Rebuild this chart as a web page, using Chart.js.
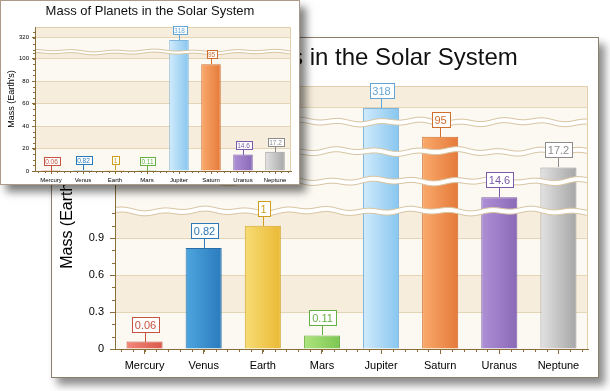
<!DOCTYPE html>
<html>
<head>
<meta charset="utf-8">
<title>Mass of Planets in the Solar System</title>
<script src="https://cdn.jsdelivr.net/npm/chart.js@4.4.0/dist/chart.umd.min.js"></script>
<style>
  html, body { margin: 0; padding: 0; background: #fff; }
  body { width: 610px; height: 391px; position: relative; overflow: hidden; }
  .panel { position: absolute; background: #fff; box-sizing: border-box; }
  #bigPanel { left: 51px; top: 37px; width: 548px; height: 341px; border: 1px solid #8c7c6c;
              box-shadow: 6px 7px 8px rgba(0, 0, 0, 0.45); z-index: 1; }
  #smallPanel { left: 0; top: 0; width: 300px; height: 185px; border: 1px solid #ad9b8a;
                box-shadow: 6px 7px 8px rgba(0, 0, 0, 0.5); z-index: 2; }
  canvas { display: block; }
</style>
</head>
<body>
<div class="panel" id="bigPanel"><canvas id="bigChart" width="546" height="339"></canvas></div>
<div class="panel" id="smallPanel"><canvas id="smallChart" width="298" height="183"></canvas></div>

<script>
// data
const planets = ['Mercury', 'Venus', 'Earth', 'Mars', 'Jupiter', 'Saturn', 'Uranus', 'Neptune'];
const massEarths = [0.06, 0.82, 1, 0.11, 318, 95, 14.6, 17.2];

// value axis pieces kept between the scale breaks
const bigTicks = [0, 0.3, 0.6, 0.9, 320];
const bigPieces = [[0, 1.12], [14, 15.3], [16.6, 17.9], [94, 96], [290, 362]];
const smallTicks = [0, 20, 40, 60, 80, 100, 320];
const smallPieces = [[0, 105.8], [308, 329]];

// colours
const barLeft  = ['#f2887a', '#4ea6de', '#f6dc76', '#aee47e', '#d0ebfc', '#f9aa6c', '#ae90d6', '#e2e2e2'];
const barRight = ['#d9584a', '#2a7bbd', '#ebb934', '#7cc652', '#88c6ef', '#e57a3a', '#8a69b7', '#a6a6a6'];
const barEdge  = ['#c4533f', '#2a6ea8', '#d3a631', '#6cae45', '#80b6dc', '#d26e2c', '#7a5aa9', '#9c9c9c'];
const labelInk = ['#c4533f', '#2b78b8', '#cf9e1c', '#66b043', '#63a6d6', '#d26e2c', '#7a5aa9', '#8c8c8c'];
const axisInk = '#8b6d3a';
const gridInk = '#e4d5b7';
const fontFamily = "'Liberation Sans', Arial, sans-serif";

// linear scale split into pieces, with a break between every two pieces
class BrokenLinearScale extends Chart.LinearScale {
    static id = 'brokenLinear';

    determineDataLimits() {
        const p = this.options.pieces;
        this.min = p[0][0];
        this.max = p[p.length - 1][1];
    }

    buildTicks() {
        return this.options.tickValues.map(v => ({ value: v }));
    }

    pieceDecimal(v) {
        const p = this.options.pieces;
        const w = this.options.pieceWeights;
        const total = w.reduce((a, b) => a + b, 0);
        let acc = 0;
        for (let i = 0; i < p.length; i++) {
            if (v <= p[i][1] || i === p.length - 1) {
                return (acc + (v - p[i][0]) / (p[i][1] - p[i][0]) * w[i]) / total;
            }
            acc += w[i];
        }
    }

    getPixelForValue(v) {
        if (v === undefined || v === null) return NaN;
        return this.getPixelForDecimal(this.pieceDecimal(v));
    }

    breakPixels() {
        const w = this.options.pieceWeights;
        const total = w.reduce((a, b) => a + b, 0);
        const out = [];
        let acc = 0;
        for (let i = 0; i < w.length - 1; i++) {
            acc += w[i];
            out.push(this.getPixelForDecimal(acc / total));
        }
        return out;
    }
}
Chart.register(BrokenLinearScale);

function barGradient(ctx) {
    const chart = ctx.chart;
    const i = ctx.dataIndex;
    const xs = chart.scales.x;
    if (!chart.chartArea || i === undefined || !xs) return barRight[0];
    const step = (xs.right - xs.left) / planets.length;
    const cx = xs.getPixelForValue(i);
    const half = step * ctx.dataset.barPercentage / 2;
    const g = chart.ctx.createLinearGradient(cx - half, 0, cx + half, 0);
    g.addColorStop(0, barLeft[i]);
    g.addColorStop(1, barRight[i]);
    return g;
}

function wave(x) {
    return Math.sin(x / 6.5) * 1.1 + Math.sin(x / 17 + 2) * 0.9;
}

// bands, frame, breaks, minor ticks and value boxes
const plotDecor = {
    id: 'plotDecor',
    beforeDraw(chart, args, o) {
        const { ctx, chartArea: a } = chart;
        const y = chart.scales.y;
        ctx.save();
        ctx.fillStyle = o.light;
        ctx.fillRect(a.left, a.top, a.right - a.left, a.bottom - a.top);
        ctx.fillStyle = o.dark;
        o.darkBands.forEach(([v0, v1]) => {
            const p0 = y.getPixelForValue(v0), p1 = y.getPixelForValue(v1);
            ctx.fillRect(a.left, p1, a.right - a.left, p0 - p1);
        });
        ctx.strokeStyle = o.frame;
        ctx.lineWidth = 1;
        ctx.beginPath();
        ctx.moveTo(a.left, a.top + 0.5);
        ctx.lineTo(a.right - 0.5, a.top + 0.5);
        ctx.lineTo(a.right - 0.5, a.bottom);
        ctx.stroke();
        ctx.restore();
    },
    afterDatasetsDraw(chart, args, o) {
        const { ctx, chartArea: a } = chart;
        const y = chart.scales.y, x = chart.scales.x;
        ctx.save();
        ctx.beginPath();
        ctx.rect(a.left + 1, a.top, a.right - a.left - 2, a.bottom - a.top);
        ctx.clip();
        y.breakPixels().forEach((py, k) => {
            const ph = k * 37;
            const up = xx => py - o.waveHalf + o.waveAmp * wave(xx + ph);
            const dn = xx => py + o.waveHalf + o.waveAmp * wave(xx + ph);
            ctx.beginPath();
            for (let xx = a.left; xx <= a.right; xx++) ctx.lineTo(xx, up(xx));
            for (let xx = a.right; xx >= a.left; xx--) ctx.lineTo(xx, dn(xx));
            ctx.closePath();
            ctx.fillStyle = '#fff';
            ctx.fill();
            ctx.strokeStyle = o.waveInk;
            ctx.lineWidth = 1;
            ctx.beginPath();
            for (let xx = a.left; xx <= a.right; xx++) ctx.lineTo(xx, up(xx));
            ctx.stroke();
            ctx.beginPath();
            for (let xx = a.left; xx <= a.right; xx++) ctx.lineTo(xx, dn(xx));
            ctx.stroke();
        });
        ctx.restore();

        // minor ticks
        ctx.save();
        ctx.strokeStyle = axisInk;
        ctx.lineWidth = 1;
        ctx.beginPath();
        const step = (x.right - x.left) / planets.length / o.xMinorPerCat;
        for (let px = x.getPixelForValue(0) - step * 2; px <= x.right + 0.1; px += step) {
            if (px < x.left) continue;
            const rx = Math.round(px) + 0.5;
            ctx.moveTo(rx, a.bottom);
            ctx.lineTo(rx, a.bottom + o.minorLen);
        }
        o.yMinor.forEach(([v0, v1, s]) => {
            for (let v = v0; v <= v1 + 1e-9; v += s) {
                const ry = Math.round(y.getPixelForValue(v)) + 0.5;
                ctx.moveTo(a.left, ry);
                ctx.lineTo(a.left - o.minorLen, ry);
            }
        });
        ctx.stroke();
        ctx.restore();

        // value boxes
        const L = o.label;
        const meta = chart.getDatasetMeta(0);
        ctx.save();
        ctx.font = L.size + 'px ' + fontFamily;
        ctx.lineWidth = 1;
        meta.data.forEach((bar, i) => {
            const txt = String(chart.data.datasets[0].data[i]);
            const bw = Math.round(ctx.measureText(txt).width + 2 * L.padX);
            const cx = Math.round(bar.x) + 0.5;
            const top = Math.round(bar.y);
            const boxBottom = top - L.gap;
            const bx = Math.round(cx - bw / 2) + 0.5;
            const by = boxBottom - L.boxH + 0.5;
            ctx.strokeStyle = labelInk[i];
            ctx.beginPath();
            ctx.moveTo(cx, top);
            ctx.lineTo(cx, boxBottom);
            ctx.stroke();
            ctx.fillStyle = '#fff';
            ctx.fillRect(bx, by, bw, L.boxH);
            ctx.strokeRect(bx, by, bw, L.boxH);
            ctx.fillStyle = labelInk[i];
            ctx.textAlign = 'center';
            ctx.textBaseline = 'middle';
            ctx.fillText(txt, cx, by + L.boxH / 2 + 0.5);
        });
        ctx.restore();
    }
};

function makeChart(id, s) {
    return new Chart(document.getElementById(id), {
        type: 'bar',
        data: {
            labels: planets,
            datasets: [{
                data: massEarths,
                backgroundColor: barGradient,
                borderColor: barEdge,
                borderWidth: 1,
                barPercentage: 0.61,
                categoryPercentage: 1
            }]
        },
        options: {
            responsive: false,
            animation: false,
            events: [],
            // equal side padding keeps the title centred on the panel
            layout: { padding: { left: s.pad, right: s.pad, top: 0, bottom: 0 } },
            plugins: {
                legend: { display: false },
                tooltip: { enabled: false },
                title: {
                    display: true,
                    text: 'Mass of Planets in the Solar System',
                    color: '#111',
                    font: { family: fontFamily, size: s.titleSize, weight: 'normal', lineHeight: 1.2 },
                    padding: s.titlePad
                },
                plotDecor: s.decor
            },
            scales: {
                x: {
                    grid: { drawOnChartArea: false, offset: false, tickLength: s.tickLen, tickColor: axisInk },
                    border: { color: axisInk },
                    ticks: { color: '#000', font: { family: fontFamily, size: s.tickSize }, padding: s.xPad, maxRotation: 0 },
                    afterFit: scale => { scale.height = s.xHeight; }
                },
                y: {
                    type: 'brokenLinear',
                    pieces: s.pieces,
                    pieceWeights: s.weights,
                    tickValues: s.ticks,
                    grid: { color: gridInk, tickColor: axisInk, tickLength: s.tickLen },
                    border: { color: axisInk },
                    ticks: { callback: v => String(v), color: '#000', font: { family: fontFamily, size: s.tickSize }, padding: s.yPad },
                    title: {
                        display: true,
                        text: "Mass (Earth's)",
                        color: '#000',
                        font: { family: fontFamily, size: s.axisTitleSize, lineHeight: 1.2 },
                        padding: { top: s.axisTitleTop, bottom: 0 }
                    },
                    afterFit: scale => { scale.width = s.yWidth; }
                }
            }
        },
        plugins: [plotDecor]
    });
}

document.addEventListener('DOMContentLoaded', function () {
    makeChart('bigChart', {
        pieces: bigPieces,
        weights: [138, 30, 29.5, 29.5, 36],
        ticks: bigTicks,
        pad: 10,
        titleSize: 24,
        titlePad: { top: 6, bottom: 13.2 },
        tickSize: 11,
        tickLen: 5,
        xPad: 5,
        yPad: 6,
        xHeight: 28,
        yWidth: 53,
        axisTitleSize: 16,
        axisTitleTop: -4.3,
        decor: {
            light: '#fcf9f2', dark: '#f6eddc', frame: '#e0cfaa',
            darkBands: [[0.3, 0.6], [0.9, 1.12], [320, 362]],
            waveHalf: 2.5, waveAmp: 1.2, waveInk: '#d8c5a2',
            xMinorPerCat: 5, yMinor: [[0, 1.1, 0.1]], minorLen: 3,
            label: { size: 11, padX: 3, boxH: 15, gap: 10 }
        }
    });

    makeChart('smallChart', {
        pieces: smallPieces,
        weights: [119, 25],
        ticks: smallTicks,
        pad: 8,
        titleSize: 13,
        titlePad: { top: 3, bottom: 7.4 },
        tickSize: 6,
        tickLen: 3,
        xPad: 3,
        yPad: 3,
        xHeight: 13,
        yWidth: 26,
        axisTitleSize: 9,
        axisTitleTop: -2.4,
        decor: {
            light: '#fcf9f2', dark: '#f6eddc', frame: '#e0cfaa',
            darkBands: [[20, 40], [60, 80], [100, 105.8], [320, 329]],
            waveHalf: 1.5, waveAmp: 0.7, waveInk: '#d8c5a2',
            xMinorPerCat: 5, yMinor: [[0, 105, 5], [310, 325, 5]], minorLen: 2,
            label: { size: 6.5, padX: 1.5, boxH: 8, gap: 6 }
        }
    });
});
</script>
</body>
</html>
